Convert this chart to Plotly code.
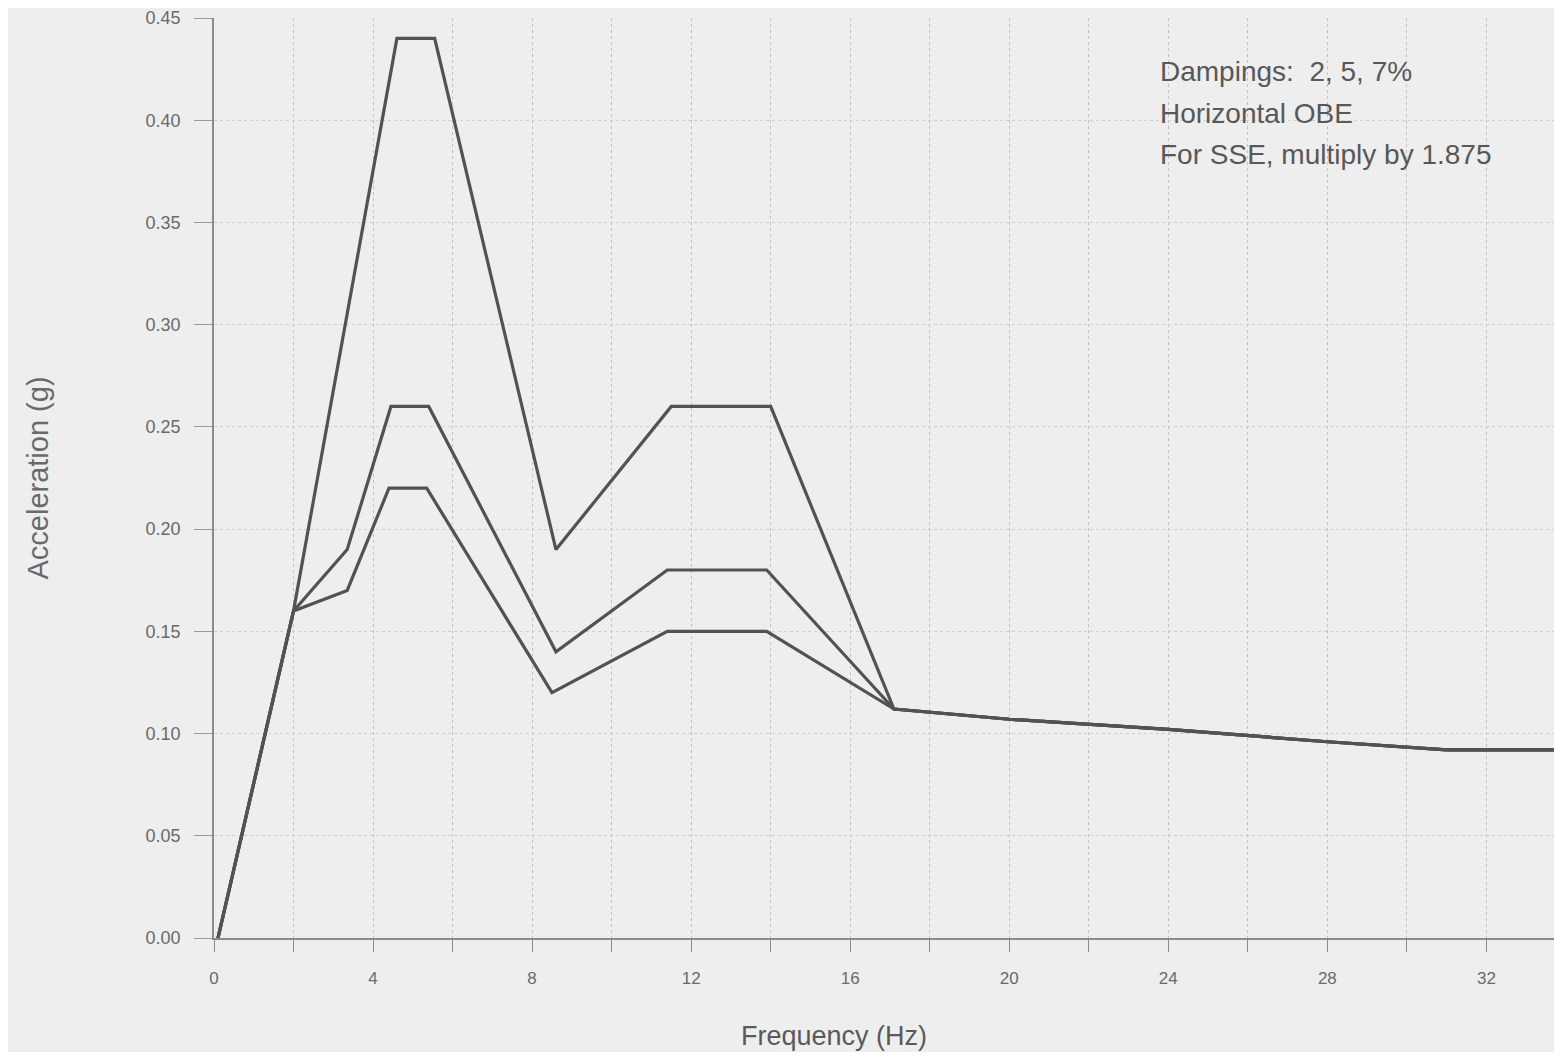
import plotly.graph_objects as go

# Frequency (Hz) / acceleration (g) break points
freq_2pct = [0.1, 2.0, 4.6, 5.55, 8.6, 11.5, 14.0, 17.1, 20.0, 24.0, 28.0, 31.0, 34.0]
acc_2pct = [0.0, 0.16, 0.44, 0.44, 0.19, 0.26, 0.26, 0.112, 0.107, 0.102, 0.096, 0.092, 0.092]

freq_5pct = [0.1, 2.0, 3.35, 4.45, 5.4, 8.6, 11.4, 13.9, 17.1, 20.0, 24.0, 28.0, 31.0, 34.0]
acc_5pct = [0.0, 0.16, 0.19, 0.26, 0.26, 0.14, 0.18, 0.18, 0.112, 0.107, 0.102, 0.096, 0.092, 0.092]

freq_7pct = [0.1, 2.0, 3.35, 4.4, 5.35, 8.5, 11.4, 13.9, 17.1, 20.0, 24.0, 28.0, 31.0, 34.0]
acc_7pct = [0.0, 0.16, 0.17, 0.22, 0.22, 0.12, 0.15, 0.15, 0.112, 0.107, 0.102, 0.096, 0.092, 0.092]

x_tick_vals = list(range(0, 36, 2))
x_tick_text = [str(v) if v % 4 == 0 else "" for v in x_tick_vals]
y_tick_vals = [0.00, 0.05, 0.10, 0.15, 0.20, 0.25, 0.30, 0.35, 0.40, 0.45]

note_lines = ["Dampings:  2, 5, 7%", "Horizontal OBE", "For SSE, multiply by 1.875"]

line_color = "#525252"
bg = "#eeeeee"
font_family = "Liberation Sans, Arial, sans-serif"

fig = go.Figure()
for xs, ys, name in [(freq_2pct, acc_2pct, "2%"), (freq_5pct, acc_5pct, "5%"), (freq_7pct, acc_7pct, "7%")]:
    fig.add_trace(go.Scatter(x=xs, y=ys, mode="lines", name=name,
                             line=dict(color=line_color, width=3.2), showlegend=False))

# note block (three lines, placed in data coordinates)
for i, line in enumerate(note_lines):
    fig.add_annotation(x=23.75, y=0.4237 - i * 0.0202, xref="x", yref="y",
                       text=line, showarrow=False, xanchor="left", yanchor="middle",
                       font=dict(family=font_family, size=28, color="#585858"))

# x-axis title (sits left of centre in the original)
fig.add_annotation(x=15.6, y=-0.1065, xref="x", yref="paper", text="Frequency (Hz)",
                   showarrow=False, xanchor="center", yanchor="middle",
                   font=dict(family=font_family, size=27, color="#5a5a5a"))

fig.update_layout(
    width=1546, height=1044,
    margin=dict(l=206, r=0, t=10, b=114),
    paper_bgcolor=bg, plot_bgcolor=bg,
    font=dict(family=font_family, color="#6a6a6a"),
    xaxis=dict(range=[0, 33.7], tickvals=x_tick_vals, ticktext=x_tick_text,
               showgrid=True, gridcolor="#c2c2c2", griddash="dot", gridwidth=1,
               zeroline=False, showline=True, linecolor="#8a8a8a", linewidth=1.5,
               ticks="outside", ticklen=12, tickcolor="#8a8a8a",
               ticklabelstandoff=12,
               tickfont=dict(size=17, color="#6a6a6a")),
    yaxis=dict(range=[0, 0.45], tickvals=y_tick_vals, tickformat=".2f",
               showgrid=True, gridcolor="#d0d0d0", griddash="dot", gridwidth=1,
               zeroline=False, showline=True, linecolor="#8a8a8a", linewidth=1.5,
               ticks="outside", ticklen=18, tickcolor="#9a9a9a",
               ticklabelstandoff=10,
               tickfont=dict(size=18, color="#6a6a6a"),
               title=dict(text="Acceleration (g)", font=dict(size=29, color="#6a6a6a"), standoff=88)),
)

fig.write_html("out.html")
